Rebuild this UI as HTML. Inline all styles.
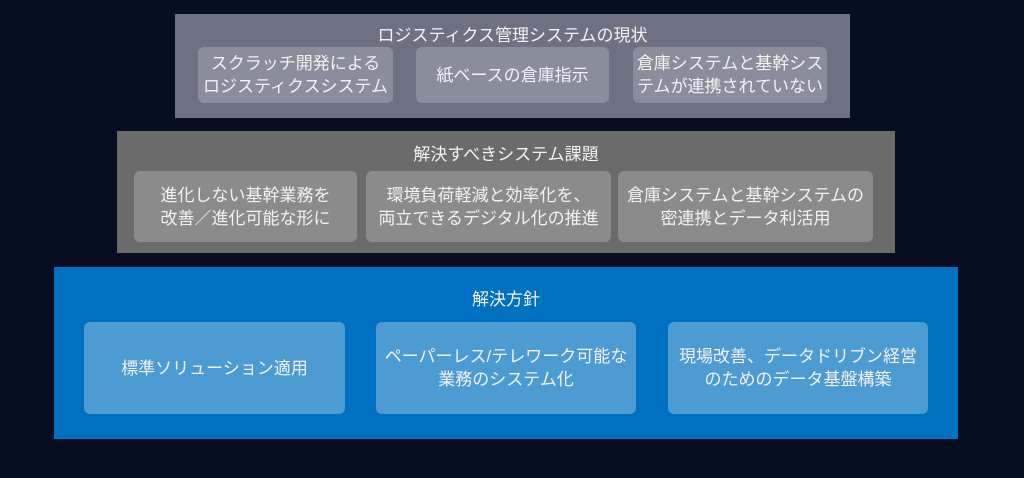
<!DOCTYPE html>
<html><head><meta charset="utf-8"><style>
*{margin:0;padding:0;box-sizing:border-box}
body{width:1024px;height:478px;background:#070e22;position:relative;overflow:hidden;font-family:"Liberation Sans","Noto Sans CJK JP",sans-serif;color:#f2f2f2}
.b{position:absolute}
.s{position:absolute;border-radius:6px;display:flex;align-items:center;justify-content:center;text-align:center;font-size:17px;line-height:23px}
.t{position:absolute;left:0;right:0;text-align:center;font-size:17px}
</style></head><body>
<div class="b" style="left:175px;top:14px;width:675px;height:104px;background:#6e7182">
  <div class="t" style="top:7px">ロジスティクス管理システムの現状</div>
</div>
<div class="s" style="left:198px;top:47px;width:195px;height:56px;background:#8a8d9c">スクラッチ開発による<br>ロジスティクスシステム</div>
<div class="s" style="left:416px;top:47px;width:193px;height:56px;background:#8a8d9c">紙ベースの倉庫指示</div>
<div class="s" style="left:633px;top:47px;width:194px;height:56px;background:#8a8d9c">倉庫システムと基幹シス<br>テムが連携されていない</div>

<div class="b" style="left:117px;top:131px;width:778px;height:122px;background:#6b6b6b">
  <div class="t" style="top:9px">解決すべきシステム課題</div>
</div>
<div class="s" style="left:134px;top:171px;width:223px;height:71px;background:#8b8b8b">進化しない基幹業務を<br>改善／進化可能な形に</div>
<div class="s" style="left:366px;top:171px;width:245px;height:71px;background:#8b8b8b">環境負荷軽減と効率化を、<br>両立できるデジタル化の推進</div>
<div class="s" style="left:618px;top:171px;width:255px;height:71px;background:#8b8b8b">倉庫システムと基幹システムの<br>密連携とデータ利活用</div>

<div class="b" style="left:54px;top:267px;width:904px;height:172px;background:#0070c0">
  <div class="t" style="top:18px">解決方針</div>
</div>
<div class="s" style="left:84px;top:322px;width:261px;height:92px;background:#4c9bd2">標準ソリューション適用</div>
<div class="s" style="left:376px;top:322px;width:260px;height:92px;background:#4c9bd2">ペーパーレス/テレワーク可能な<br>業務のシステム化</div>
<div class="s" style="left:668px;top:322px;width:260px;height:92px;background:#4c9bd2">現場改善、データドリブン経営<br>のためのデータ基盤構築</div>
</body></html>
